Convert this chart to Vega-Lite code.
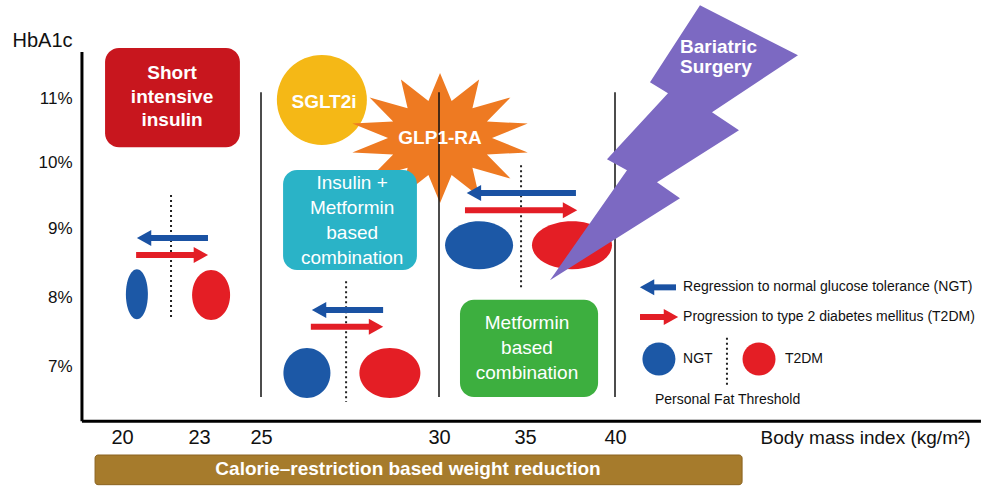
{
  "$schema": "https://vega.github.io/schema/vega-lite/v6.json",
  "width": 981,
  "height": 487,
  "padding": 0,
  "autosize": {"type": "none"},
  "background": "white",
  "config": {"view": {"stroke": null}, "font": "Liberation Sans"},
  "datasets": {
    "sglt": [{"x": 26.71, "y": 10.97}],
    "glp": [{"x": 30.06, "y": 10.375}],
    "boxes": [
      {"name": "Short intensive insulin", "x": 19.34, "x2": 24.32, "y": 11.78, "y2": 10.23},
      {"name": "Insulin + Metformin based combination", "x": 25.62, "x2": 29.38, "y": 9.88, "y2": 8.39},
      {"name": "Metformin based combination", "x": 31.22, "x2": 39.06, "y": 7.96, "y2": 6.55}
    ],
    "bar": [{"name": "Calorie–restriction based weight reduction", "x": 18.95, "x2": 47.06, "y": 5.71, "y2": 5.28}],
    "axes": [
      {"x": 18.44, "x2": 18.44, "y": 11.72, "y2": 6.2},
      {"x": 18.44, "x2": 60.33, "y": 6.2, "y2": 6.2}
    ],
    "bmiLines": [
      {"x": 25, "x2": 25, "y": 11.09, "y2": 6.55},
      {"x": 30, "x2": 30, "y": 11.09, "y2": 6.55},
      {"x": 40, "x2": 40, "y": 11.09, "y2": 6.55}
    ],
    "thresholds": [
      {"x": 21.91, "x2": 21.91, "y": 9.5, "y2": 7.7},
      {"x": 27.39, "x2": 27.39, "y": 8.23, "y2": 6.48},
      {"x": 34.77, "x2": 34.77, "y": 9.95, "y2": 8.14},
      {"x": 46.22, "x2": 46.22, "y": 7.41, "y2": 6.72}
    ],
    "shafts": [
      {"dir": "Regression to NGT", "x": 20.86, "x2": 23.29, "y": 8.855, "y2": 8.855},
      {"dir": "Progression to T2DM", "x": 20.55, "x2": 23.06, "y": 8.61, "y2": 8.61},
      {"dir": "Regression to NGT", "x": 26.63, "x2": 28.43, "y": 7.81, "y2": 7.81},
      {"dir": "Progression to T2DM", "x": 26.4, "x2": 28.23, "y": 7.57, "y2": 7.57},
      {"dir": "Regression to NGT", "x": 32.03, "x2": 37.83, "y": 9.53, "y2": 9.53},
      {"dir": "Progression to T2DM", "x": 31.51, "x2": 37.5, "y": 9.27, "y2": 9.27},
      {"dir": "Regression to NGT", "x": 41.78, "x2": 43.39, "y": 8.14, "y2": 8.14},
      {"dir": "Progression to T2DM", "x": 41.39, "x2": 43.11, "y": 7.71, "y2": 7.71}
    ],
    "heads": [
      {"dir": "Regression to NGT", "x": 20.86, "y": 8.855},
      {"dir": "Progression to T2DM", "x": 23.06, "y": 8.61},
      {"dir": "Regression to NGT", "x": 26.63, "y": 7.81},
      {"dir": "Progression to T2DM", "x": 28.23, "y": 7.57},
      {"dir": "Regression to NGT", "x": 32.03, "y": 9.53},
      {"dir": "Progression to T2DM", "x": 37.5, "y": 9.27},
      {"dir": "Regression to NGT", "x": 41.78, "y": 8.14},
      {"dir": "Progression to T2DM", "x": 43.11, "y": 7.71}
    ],
    "cells": [
      {"id": "g1-ngt", "status": "NGT", "x": 20.58, "y": 8.04},
      {"id": "g1-t2dm", "status": "T2DM", "x": 23.39, "y": 8.03},
      {"id": "g2-ngt", "status": "NGT", "x": 26.29, "y": 6.9},
      {"id": "g2-t2dm", "status": "T2DM", "x": 28.62, "y": 6.9},
      {"id": "g3-ngt", "status": "NGT", "x": 32.33, "y": 8.75},
      {"id": "g3-t2dm", "status": "T2DM", "x": 37.61, "y": 8.75},
      {"id": "key-ngt", "status": "NGT", "x": 42.44, "y": 7.1},
      {"id": "key-t2dm", "status": "T2DM", "x": 48.0, "y": 7.1}
    ],
    "bolt": [{"x": 43.61, "y": 10.34}],
    "labelsBold": [
      {"label": "Short\nintensive\ninsulin", "x": 21.95, "y": 11.39},
      {"label": "SGLT2i", "x": 26.77, "y": 10.94},
      {"label": "GLP1-RA", "x": 30.06, "y": 10.375},
      {"label": "Calorie–restriction based weight reduction", "x": 29.13, "y": 5.51}
    ],
    "labelsBox": [
      {"label": "Insulin +\nMetformin\nbased\ncombination", "x": 27.56, "y": 9.68},
      {"label": "Metformin\nbased\ncombination", "x": 35.11, "y": 7.62}
    ],
    "labelsBolt": [{"label": "Bariatric\nSurgery", "x": 43.61, "y": 11.8}],
    "legendText": [
      {"label": "Regression to normal glucose tolerance (NGT)", "x": 43.78, "y": 8.14},
      {"label": "Progression to type 2 diabetes mellitus (T2DM)", "x": 43.78, "y": 7.71},
      {"label": "NGT", "x": 43.78, "y": 7.1},
      {"label": "T2DM", "x": 49.44, "y": 7.1},
      {"label": "Personal Fat Threshold", "x": 42.22, "y": 6.51}
    ]
  },
  "encoding": {
    "x": {
      "field": "x",
      "type": "quantitative",
      "scale": {"domain": [20, 23, 25, 30, 35, 40], "range": [122, 199, 261, 439, 525, 615], "nice": false, "zero": false},
      "axis": {
        "values": [20, 23, 25, 30, 35, 40],
        "orient": "bottom",
        "offset": -66,
        "domain": false,
        "ticks": false,
        "tickSize": 0,
        "grid": false,
        "labelPadding": 6,
        "labelFontSize": 20,
        "labelColor": "#111",
        "labelFont": "Liberation Sans",
        "labelFlush": false,
        "labelOverlap": false,
        "title": "Body mass index (kg/m²)",
        "titleX": 760,
        "titleY": 16,
        "titleAlign": "left",
        "titleBaseline": "middle",
        "titleFontSize": 19,
        "titleFontWeight": "normal",
        "titleColor": "#111",
        "titleFont": "Liberation Sans"
      }
    },
    "y": {
      "field": "y",
      "type": "quantitative",
      "scale": {"domain": [7, 8, 9, 10, 11], "range": [366, 297, 228, 162, 98], "nice": false, "zero": false},
      "axis": {
        "values": [7, 8, 9, 10, 11],
        "orient": "left",
        "offset": -74,
        "domain": false,
        "ticks": false,
        "tickSize": 0,
        "grid": false,
        "labelPadding": 2,
        "labelFontSize": 17,
        "labelExpr": "datum.value + '%'",
        "labelColor": "#111",
        "labelFont": "Liberation Sans",
        "labelFlush": false,
        "labelOverlap": false,
        "title": "HbA1c",
        "titleAngle": 0,
        "titleX": -62,
        "titleY": 40,
        "titleAlign": "left",
        "titleBaseline": "middle",
        "titleFontSize": 20,
        "titleFontWeight": "normal",
        "titleColor": "#111",
        "titleFont": "Liberation Sans"
      }
    }
  },
  "layer": [
    {"data": {"name": "sglt"}, "mark": {"type": "point", "filled": true, "shape": "circle", "size": 8100, "color": "#F5B816", "opacity": 1}},
    {"data": {"name": "glp"}, "mark": {"type": "point", "filled": true, "size": 40000, "color": "#EE7A22", "opacity": 1,
      "shape": "M0.52,0L0.877,0.145L0.469,0.165L0.704,0.405L0.324,0.297L0.391,0.586L0.116,0.37L0,0.65L-0.116,0.37L-0.391,0.586L-0.324,0.297L-0.704,0.405L-0.469,0.165L-0.877,0.145L-0.52,0L-0.877,-0.145L-0.469,-0.165L-0.704,-0.405L-0.324,-0.297L-0.391,-0.586L-0.116,-0.37L0,-0.65L0.116,-0.37L0.391,-0.586L0.324,-0.297L0.704,-0.405L0.469,-0.165L0.877,-0.145Z"}},
    {"data": {"name": "boxes"}, "mark": {"type": "rect", "cornerRadius": 14},
      "encoding": {"x2": {"field": "x2"}, "y2": {"field": "y2"},
        "color": {"field": "name", "type": "nominal", "legend": null,
          "scale": {"domain": ["Short intensive insulin", "Insulin + Metformin based combination", "Metformin based combination"], "range": ["#C8161E", "#2AB3C7", "#3DAF3F"]}}}},
    {"data": {"name": "bar"}, "mark": {"type": "rect", "cornerRadius": 3, "color": "#A67B2C", "stroke": "#8A6320", "strokeWidth": 1},
      "encoding": {"x2": {"field": "x2"}, "y2": {"field": "y2"}}},
    {"data": {"name": "axes"}, "mark": {"type": "rule", "color": "#000", "strokeWidth": 3},
      "encoding": {"x2": {"field": "x2"}, "y2": {"field": "y2"}}},
    {"data": {"name": "bmiLines"}, "mark": {"type": "rule", "color": "#111", "strokeWidth": 1.5},
      "encoding": {"x2": {"field": "x2"}, "y2": {"field": "y2"}}},
    {"data": {"name": "thresholds"}, "mark": {"type": "rule", "color": "#222", "strokeWidth": 2, "strokeDash": [2, 3]},
      "encoding": {"x2": {"field": "x2"}, "y2": {"field": "y2"}}},
    {"data": {"name": "shafts"}, "mark": {"type": "rule", "strokeWidth": 6},
      "encoding": {"x2": {"field": "x2"}, "y2": {"field": "y2"},
        "color": {"field": "dir", "type": "nominal", "legend": null,
          "scale": {"domain": ["Regression to NGT", "Progression to T2DM"], "range": ["#1A52A3", "#E31E26"]}}}},
    {"data": {"name": "heads"}, "mark": {"type": "point", "filled": true, "size": 256, "opacity": 1},
      "encoding": {
        "color": {"field": "dir", "type": "nominal", "legend": null,
          "scale": {"domain": ["Regression to NGT", "Progression to T2DM"], "range": ["#1A52A3", "#E31E26"]}},
        "shape": {"field": "dir", "type": "nominal", "legend": null,
          "scale": {"domain": ["Regression to NGT", "Progression to T2DM"], "range": ["M-0.9,0L0.9,-1L0.9,1Z", "M0.9,0L-0.9,-1L-0.9,1Z"]}}}},
    {"data": {"name": "cells"}, "mark": {"type": "point", "filled": true, "size": 2500, "opacity": 1},
      "encoding": {
        "color": {"field": "status", "type": "nominal", "legend": null,
          "scale": {"domain": ["NGT", "T2DM"], "range": ["#1C58A6", "#E41E25"]}},
        "shape": {"field": "id", "type": "nominal", "legend": null,
          "scale": {"domain": ["g1-ngt", "g1-t2dm", "g2-ngt", "g2-t2dm", "g3-ngt", "g3-t2dm", "key-ngt", "key-t2dm"],
            "range": [
              "M-0.44,0A0.44,1,0,1,0,0.44,0A0.44,1,0,1,0,-0.44,0Z",
              "M-0.76,0A0.76,1,0,1,0,0.76,0A0.76,1,0,1,0,-0.76,0Z",
              "M-0.94,0A0.94,1,0,1,0,0.94,0A0.94,1,0,1,0,-0.94,0Z",
              "M-1.22,0A1.22,1,0,1,0,1.22,0A1.22,1,0,1,0,-1.22,0Z",
              "M-1.36,0A1.36,0.96,0,1,0,1.36,0A1.36,0.96,0,1,0,-1.36,0Z",
              "M-1.6,0A1.6,0.96,0,1,0,1.6,0A1.6,0.96,0,1,0,-1.6,0Z",
              "M-0.66,0A0.66,0.66,0,1,0,0.66,0A0.66,0.66,0,1,0,-0.66,0Z",
              "M-0.66,0A0.66,0.66,0,1,0,0.66,0A0.66,0.66,0,1,0,-0.66,0Z"
            ]}}}},
    {"data": {"name": "bolt"}, "mark": {"type": "point", "filled": true, "size": 40000, "color": "#7C69C2", "opacity": 1,
      "shape": "M0.2,-1.35L1.18,-0.85L0.32,-0.28L0.59,-0.1L-0.23,0.42L0,0.58L-1.3,1.4L-0.53,0.3L-0.73,0.19L-0.12,-0.47L-0.3,-0.58Z"}},
    {"data": {"name": "labelsBold"}, "mark": {"type": "text", "align": "center", "baseline": "middle", "fontSize": 19, "fontWeight": "bold", "color": "white", "lineBreak": "\n", "lineHeight": 23.5, "font": "Liberation Sans"},
      "encoding": {"text": {"field": "label"}}},
    {"data": {"name": "labelsBox"}, "mark": {"type": "text", "align": "center", "baseline": "middle", "fontSize": 19, "color": "white", "lineBreak": "\n", "lineHeight": 25, "font": "Liberation Sans"},
      "encoding": {"text": {"field": "label"}}},
    {"data": {"name": "labelsBolt"}, "mark": {"type": "text", "align": "left", "baseline": "middle", "fontSize": 19, "fontWeight": "bold", "color": "white", "lineBreak": "\n", "lineHeight": 20, "font": "Liberation Sans"},
      "encoding": {"text": {"field": "label"}}},
    {"data": {"name": "legendText"}, "mark": {"type": "text", "align": "left", "baseline": "middle", "fontSize": 14, "color": "#111", "font": "Liberation Sans"},
      "encoding": {"text": {"field": "label"}}}
  ],
  "resolve": {"scale": {"color": "independent", "shape": "independent"}}
}
